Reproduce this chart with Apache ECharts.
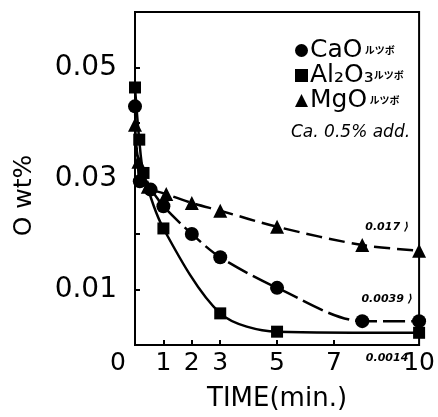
<!DOCTYPE html>
<html>
<head>
<meta charset="utf-8">
<script src="https://cdn.jsdelivr.net/npm/echarts@6/dist/echarts.min.js"></script>
<style>
  html, body { margin: 0; padding: 0; background: #fff; }
  #chart { width: 438px; height: 417px; }
</style>
</head>
<body>
<div id="chart"></div>
<script>
// data (time in min, O in wt%)
var caoData = [[0, 0.043], [0.17, 0.0295], [0.55, 0.028], [1, 0.025], [2, 0.020], [3, 0.0158], [5, 0.0103], [8, 0.0043], [10, 0.0043]]
var al2o3Data = [[0, 0.0464], [0.15, 0.037], [0.3, 0.031], [1, 0.021], [3, 0.0057], [5, 0.0024], [10, 0.0022]]
var mgoData = [[0, 0.0397], [0.12, 0.033], [0.45, 0.0285], [1.1, 0.0272], [2, 0.0256], [3, 0.0242], [5, 0.0213], [8, 0.018], [10, 0.017]]
var xLabels = [0, 1, 2, 3, 5, 7, 10]
var xTicks = [1, 2, 3, 5, 7]
var yLabels = [0.01, 0.03, 0.05]
var yTicks = [0.01, 0.02, 0.03, 0.04, 0.05]
var endNotes = { cao: '0.0039 ⟩', al2o3: '0.0014', mgo: '0.017 ⟩' }

var font = 'DejaVu Sans'
var chart = echarts.init(document.getElementById('chart'))

function withNote(data, note, offset) {
  // hand-written value note on the last point
  return data.map(function (d, i) {
    if (i !== data.length - 1) return d
    return {
      value: d,
      label: {
        show: true,
        formatter: note,
        position: 'top',
        offset: offset,
        fontFamily: font,
        fontStyle: 'italic',
        fontWeight: 'bold',
        fontSize: 11,
        color: '#000'
      }
    }
  })
}

chart.setOption({
  animation: false,
  backgroundColor: '#fff',
  grid: {
    left: 135, right: 10, top: 12, bottom: 71,
    show: true,
    borderColor: '#000',
    borderWidth: 2
  },
  legend: {
    orient: 'vertical',
    left: 290,
    top: 33,
    itemGap: 0,
    itemWidth: 13,
    itemHeight: 13,
    data: [
      { name: 'CaO', icon: 'circle' },
      { name: 'Al2O3', icon: 'rect' },
      { name: 'MgO', icon: 'triangle' }
    ],
    formatter: function (name) {
      if (name === 'Al2O3') return '{a|Al₂O₃}{b|ルツボ}'
      return '{a|' + name + '}{b| ルツボ}'
    },
    textStyle: {
      padding: [0, 0, 0, -3],
      rich: {
        a: { fontFamily: font, fontSize: 25, color: '#000', lineHeight: 26 },
        b: { fontFamily: 'Noto Sans CJK JP', fontSize: 10, color: '#000', fontWeight: 'bold' }
      }
    }
  },
  graphic: [{
    type: 'text',
    left: 291,
    top: 124,
    style: {
      text: 'Ca. 0.5% add.',
      font: 'italic 17px "DejaVu Sans"',
      fill: '#000'
    }
  }],
  xAxis: {
    type: 'value',
    min: 0,
    max: 10,
    name: 'TIME(min.)',
    nameLocation: 'middle',
    nameGap: 41,
    nameTextStyle: { fontFamily: font, fontSize: 26, color: '#000' },
    axisLine: { lineStyle: { color: '#000', width: 2 } },
    axisTick: { inside: true, length: 5, customValues: xTicks, lineStyle: { color: '#000', width: 2 } },
    axisLabel: {
      customValues: xLabels,
      fontFamily: font, fontSize: 25, color: '#000', margin: 6,
      formatter: function (v) { return v === 0 ? '{z|0}' : String(v) },
      rich: { z: { fontFamily: font, fontSize: 25, color: '#000', padding: [0, 34, 0, 0] } }
    },
    splitLine: { show: false }
  },
  yAxis: {
    type: 'value',
    min: 0,
    max: 0.06,
    name: 'O wt%',
    nameLocation: 'middle',
    nameGap: 98,
    nameTextStyle: { fontFamily: font, fontSize: 25, color: '#000', padding: [0, 34, 0, 0] },
    axisLine: { lineStyle: { color: '#000', width: 2 } },
    axisTick: { inside: true, length: 5, customValues: yTicks, lineStyle: { color: '#000', width: 2 } },
    axisLabel: { customValues: yLabels, fontFamily: font, fontSize: 28, color: '#000', margin: 18 },
    splitLine: { show: false }
  },
  series: [{
    name: 'CaO',
    type: 'line',
    smooth: 0.3,
    symbol: 'circle',
    symbolSize: 14,
    itemStyle: { color: '#000' },
    lineStyle: { color: '#000', width: 2.5, type: [22, 6] },
    data: withNote(caoData, endNotes.cao, [-32, -4])
  }, {
    name: 'Al2O3',
    type: 'line',
    smooth: 0.3,
    symbol: 'rect',
    symbolSize: 12,
    itemStyle: { color: '#000' },
    lineStyle: { color: '#000', width: 2.5 },
    data: withNote(al2o3Data, endNotes.al2o3, [-32, 42])
  }, {
    name: 'MgO',
    type: 'line',
    smooth: 0.3,
    symbol: 'triangle',
    symbolSize: 14,
    itemStyle: { color: '#000' },
    lineStyle: { color: '#000', width: 2.5, type: [16, 7] },
    data: withNote(mgoData, endNotes.mgo, [-32, -6])
  }]
})
</script>
</body>
</html>
